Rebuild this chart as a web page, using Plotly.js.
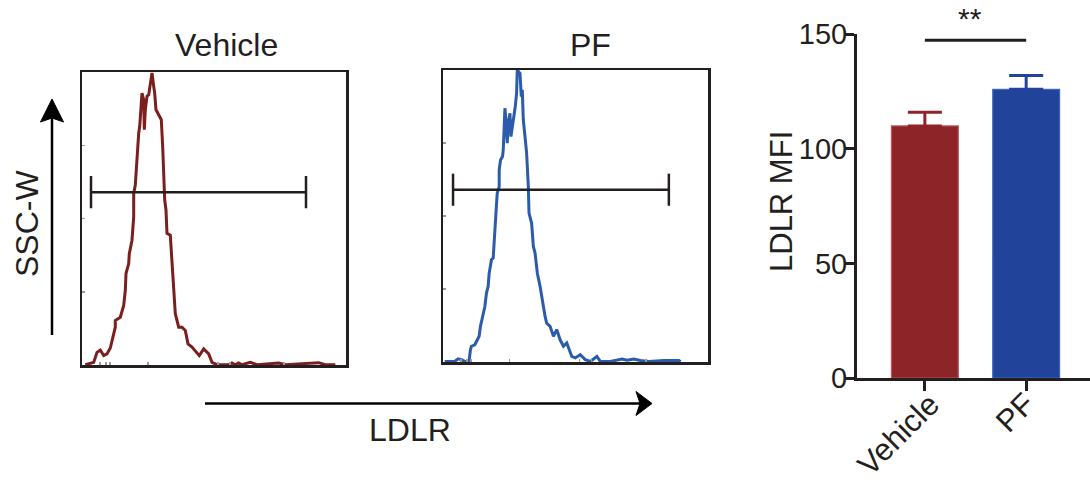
<!DOCTYPE html>
<html>
<head>
<meta charset="utf-8">
<script src="https://cdn.plot.ly/plotly-3.0.1.min.js"></script>
<style>html,body{margin:0;padding:0;background:#fff;}#chart{width:1090px;height:484px;}</style>
</head>
<body>
<div id="chart"></div>
<script>
// ---- Flow histograms (x: LDLR channel, y: % of max) ----
const vehX = [3.3,11.7,15,18.3,21.7,25,28.3,30,33.3,33.3,38.3,41.7,43.3,44,46.7,47.3,50,51.7,51.7,53.3,55,56.7,57.7,59,60,61.7,62.3,63.3,65,66.7,68.3,70,71.7,72.7,74,76.7,79.3,80.7,81.7,82.7,84,85,88.3,90,91.7,93.3,96.7,100,103.3,106,110,113.3,117.3,121.7,126.7,130,135,146.7,150,153.3,156.7,160,168.3,175,196.7,203.3,236.7,243.3,253.3];
const vehY = [0.1,0.9,4.3,5.1,3.2,3.8,5.8,8.3,12.9,15.2,16.3,20.3,25.5,31.2,34.6,38.0,42.6,50.6,58.6,61.4,71.1,79.1,81.4,89.4,92.8,90.5,80.3,87.1,91.7,92.2,96.2,99.7,95.1,92.8,87.1,85.4,83.7,74.5,65.4,56.3,52.9,44.9,44.3,34.6,26.6,17.5,12.9,12.9,11.8,7.2,6.1,4.9,3.2,5.5,3.8,0.9,0.1,0.1,0.7,0.1,0.7,0.1,0.9,0.1,0.7,0.1,0.8,0.1,0.1];
const pfX = [1.7,11.7,15,18.3,21.7,26,27.3,28.3,31.7,33.3,36,37.3,39.3,40.7,41.7,43.3,45,46,48.3,50,51.7,52.7,54,56,56,57.3,59.3,60,61,61.7,62.7,64,65,66.7,67.7,69.3,70.7,72,73.3,74,76.7,78,79,80,81.7,83.3,85,85.7,88.3,90,91.7,94,96.7,99.3,101.7,103.3,106.7,110,113.3,116.7,120,123.3,125.7,128.3,131.7,136.7,141.7,146.7,153.3,156.7,166.7,178.3,183.3,190,196.7,205,220,235,236.7];
const pfY = [0.2,0.2,1.1,0.8,0.2,0.2,4.2,5.4,5.9,7.1,8.8,12.2,15.1,16.8,19.0,23.6,25.9,30.4,35.0,35.6,46.4,51.0,57.8,60.1,65.8,69.2,70.4,72.6,82.9,86.9,82.9,74.9,81.8,85.2,77.2,80.6,84.0,87.5,92.0,100,98.9,90.9,93.2,82.9,77.2,71.5,60.1,51.0,47.5,39.6,37.3,30.4,25.9,20.2,15.6,13.3,12.2,8.8,11.1,7.6,5.4,6.5,4.2,1.9,1.4,2.5,0.8,0.2,1.9,0.2,0.2,1.0,0.6,1.0,0.5,0.2,0.5,0.5,0.1];
const gateVeh = [9, 224, 59];   // [low, high, y]
const gatePF  = [10, 225, 59];
const histYTicks = [25, 50, 75];
const histXTicks = [18, 24, 28, 66, 136, 148, 202];

// ---- Bar chart ----
const groups = ['Vehicle', 'PF'];
const mfiMean = [110, 126];
const mfiSem = [6, 6];
const sigY = 147.4;
const yTicks = [0, 50, 100, 150];

const TXT = '#231F20';
const FONT = 'Liberation Sans, Arial, sans-serif';
const W = 1090, H = 484;
const px = v => v / W;
const py = v => 1 - v / H;

const traces = [
  {x: vehX, y: vehY, xaxis: 'x', yaxis: 'y', type: 'scatter', mode: 'lines',
   line: {color: '#7A1E1E', width: 3}, cliponaxis: false, hoverinfo: 'skip'},
  {x: pfX, y: pfY, xaxis: 'x2', yaxis: 'y2', type: 'scatter', mode: 'lines',
   line: {color: '#2B5BAA', width: 3}, cliponaxis: false, hoverinfo: 'skip'},
  {x: [groups[0]], y: [mfiMean[0]], xaxis: 'x3', yaxis: 'y3', type: 'bar', width: 0.66,
   marker: {color: '#8C2428', line: {color: '#B8585C', width: 1.2}},
   error_y: {type: 'data', symmetric: false, array: [mfiSem[0]], arrayminus: [0],
             thickness: 3, width: 17, color: '#8C2428'}, hoverinfo: 'skip'},
  {x: [groups[1]], y: [mfiMean[1]], xaxis: 'x3', yaxis: 'y3', type: 'bar', width: 0.66,
   marker: {color: '#21449A', line: {color: '#4468B8', width: 1.2}},
   error_y: {type: 'data', symmetric: false, array: [mfiSem[1]], arrayminus: [0],
             thickness: 3, width: 17, color: '#21449A'}, hoverinfo: 'skip'},
];

function histAxisX(domain) {
  return {domain: domain, range: [0, 264], showline: true, mirror: true, linewidth: 2.5,
          linecolor: TXT, ticks: 'inside', tickvals: histXTicks, ticklen: 3, tickwidth: 1.5,
          tickcolor: '#9a9a9a', showticklabels: false, showgrid: false, zeroline: false, fixedrange: true};
}
function histAxisY(domain, anchor) {
  return {domain: domain, range: [0, 100], showline: true, mirror: true, linewidth: 2.5,
          linecolor: TXT, ticks: 'inside', tickvals: histYTicks, ticklen: 3, tickwidth: 1.5,
          tickcolor: '#9a9a9a', showticklabels: false, showgrid: false, zeroline: false,
          anchor: anchor, fixedrange: true};
}

const xa = histAxisX([px(82), px(346)]); xa.anchor = 'y';
const ya = histAxisY([py(365), py(72)], 'x');
const xa2 = histAxisX([px(443), px(708)]); xa2.anchor = 'y2';
const ya2 = histAxisY([py(362), py(70)], 'x2');

// x tick labels of the bar chart (rotated), centred positions in px
const xLabelPos = [[898, 434], [1015, 412]];

const annotations = [
  {text: 'Vehicle', xref: 'paper', yref: 'paper', x: px(226), y: py(45), xanchor: 'center', yanchor: 'middle', showarrow: false, font: {size: 32, color: TXT, family: FONT}},
  {text: 'PF', xref: 'paper', yref: 'paper', x: px(591), y: py(45), xanchor: 'center', yanchor: 'middle', showarrow: false, font: {size: 32, color: TXT, family: FONT}},
  {text: 'SSC-W', xref: 'paper', yref: 'paper', x: px(27), y: py(224), xanchor: 'center', yanchor: 'middle', textangle: -90, showarrow: false, font: {size: 32, color: TXT, family: FONT}},
  {text: 'LDLR', xref: 'paper', yref: 'paper', x: px(410), y: py(430), xanchor: 'center', yanchor: 'middle', showarrow: false, font: {size: 32, color: TXT, family: FONT}},
  {text: 'LDLR MFI', xref: 'paper', yref: 'paper', x: px(781), y: py(202), xanchor: 'center', yanchor: 'middle', textangle: -90, showarrow: false, font: {size: 31, color: TXT, family: FONT}},
  {text: '**', xref: 'paper', yref: 'paper', x: px(970), y: 1, xanchor: 'center', yanchor: 'top', showarrow: false, font: {size: 30, color: TXT, family: FONT}},
];
groups.forEach((g, i) => annotations.push({text: g, xref: 'paper', yref: 'paper',
  x: px(xLabelPos[i][0]), y: py(xLabelPos[i][1]), xanchor: 'center', yanchor: 'middle',
  textangle: -45, showarrow: false, font: {size: 31, color: TXT, family: FONT}}));

const layout = {
  width: W, height: H, margin: {l: 0, r: 0, t: 0, b: 0},
  paper_bgcolor: '#fff', plot_bgcolor: 'rgba(0,0,0,0)', showlegend: false,
  font: {family: FONT, color: TXT, size: 30},
  barmode: 'overlay',
  xaxis: xa, yaxis: ya, xaxis2: xa2, yaxis2: ya2,
  xaxis3: {domain: [px(857), 1], anchor: 'y3', type: 'category', range: [-0.67, 1.63],
           showline: true, linewidth: 3, linecolor: TXT, ticks: 'outside', ticklen: 10,
           tickwidth: 3, tickcolor: TXT, showticklabels: false,
           showgrid: false, zeroline: false, fixedrange: true},
  yaxis3: {domain: [py(378), py(34.3)], anchor: 'x3', range: [0, 150], tickvals: yTicks,
           showline: true, linewidth: 3, linecolor: TXT, ticks: 'outside', ticklen: 10,
           tickwidth: 3, tickcolor: TXT, tickfont: {size: 29, color: TXT, family: FONT},
           ticklabelstandoff: -9,
           showgrid: false, zeroline: false, fixedrange: true},
  shapes: [
    {type: 'line', xref: 'x', yref: 'y', x0: gateVeh[0], x1: gateVeh[1], y0: gateVeh[2], y1: gateVeh[2], line: {color: TXT, width: 2.5}},
    {type: 'line', xref: 'x', yref: 'y', x0: gateVeh[0], x1: gateVeh[0], y0: gateVeh[2] - 5.5, y1: gateVeh[2] + 5.5, line: {color: TXT, width: 2.5}},
    {type: 'line', xref: 'x', yref: 'y', x0: gateVeh[1], x1: gateVeh[1], y0: gateVeh[2] - 5.5, y1: gateVeh[2] + 5.5, line: {color: TXT, width: 2.5}},
    {type: 'line', xref: 'x2', yref: 'y2', x0: gatePF[0], x1: gatePF[1], y0: gatePF[2], y1: gatePF[2], line: {color: TXT, width: 2.5}},
    {type: 'line', xref: 'x2', yref: 'y2', x0: gatePF[0], x1: gatePF[0], y0: gatePF[2] - 5.5, y1: gatePF[2] + 5.5, line: {color: TXT, width: 2.5}},
    {type: 'line', xref: 'x2', yref: 'y2', x0: gatePF[1], x1: gatePF[1], y0: gatePF[2] - 5.5, y1: gatePF[2] + 5.5, line: {color: TXT, width: 2.5}},
    {type: 'line', xref: 'x3', yref: 'y3', x0: 0, x1: 1, y0: sigY, y1: sigY, line: {color: TXT, width: 3}},
    {type: 'line', xref: 'paper', yref: 'paper', x0: px(52), x1: px(52), y0: py(335), y1: py(115), line: {color: '#000', width: 2.5}},
    {type: 'path', xref: 'paper', yref: 'paper', fillcolor: '#000', line: {color: '#000', width: 1},
     path: `M ${px(52)} ${py(99)} L ${px(40.5)} ${py(122)} L ${px(52)} ${py(118)} L ${px(63.5)} ${py(122)} Z`},
    {type: 'line', xref: 'paper', yref: 'paper', x0: px(205), x1: px(642), y0: py(403.5), y1: py(403.5), line: {color: '#000', width: 2.5}},
    {type: 'path', xref: 'paper', yref: 'paper', fillcolor: '#000', line: {color: '#000', width: 1},
     path: `M ${px(652)} ${py(403.5)} L ${px(636)} ${py(391.5)} L ${px(640)} ${py(403.5)} L ${px(636)} ${py(415.5)} Z`},
  ],
  annotations: annotations,
};

Plotly.newPlot('chart', traces, layout, {staticPlot: true, displayModeBar: false});
</script>
</body>
</html>
